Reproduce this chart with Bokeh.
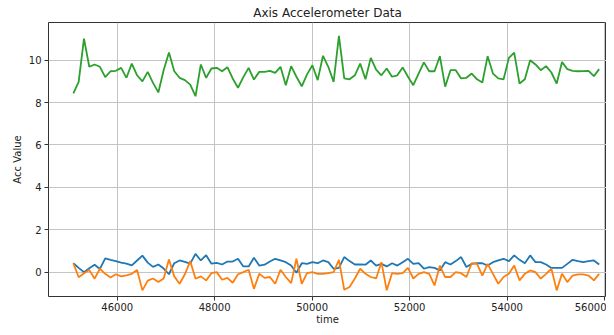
from bokeh.plotting import figure
from bokeh.models import Range1d, FixedTicker
from bokeh.embed import file_html
from bokeh.resources import INLINE

time = [45100, 45209, 45318, 45427, 45536, 45645, 45754, 45863, 45972, 46081,
        46190, 46299, 46408, 46517, 46626, 46735, 46844, 46953, 47062, 47171,
        47280, 47389, 47498, 47607, 47716, 47825, 47934, 48043, 48152, 48261,
        48370, 48479, 48588, 48697, 48806, 48915, 49024, 49133, 49242, 49351,
        49460, 49569, 49678, 49787, 49896, 50005, 50114, 50223, 50332, 50441,
        50550, 50659, 50768, 50877, 50986, 51095, 51204, 51313, 51422, 51531,
        51640, 51749, 51858, 51967, 52076, 52185, 52294, 52403, 52512, 52621,
        52730, 52839, 52948, 53057, 53166, 53275, 53384, 53493, 53602, 53711,
        53820, 53929, 54038, 54147, 54256, 54365, 54474, 54583, 54692, 54801,
        54910, 55019, 55128, 55237, 55346, 55455, 55564, 55673, 55782, 55891]

acc_x = [0.42, 0.20, 0.00, 0.18, 0.35, 0.15, 0.65, 0.58, 0.52, 0.45,
         0.40, 0.32, 0.55, 0.78, 0.45, 0.25, 0.36, 0.17, -0.10, 0.42,
         0.55, 0.48, 0.40, 0.86, 0.55, 0.80, 0.40, 0.44, 0.36, 0.50,
         0.50, 0.63, 0.27, 0.27, 0.68, 0.31, 0.35, 0.50, 0.63, 0.55,
         0.47, 0.31, -0.03, 0.42, 0.39, 0.47, 0.42, 0.55, 0.47, 0.16,
         0.20, 0.71, 0.52, 0.36, 0.36, 0.35, 0.55, 0.31, 0.39, 0.27,
         0.42, 0.31, 0.47, 0.63, 0.39, 0.42, 0.16, 0.24, 0.20, 0.08,
         0.47, 0.36, 0.52, 0.71, 0.24, 0.39, 0.42, 0.42, 0.31, 0.47,
         0.55, 0.63, 0.52, 0.79, 0.58, 0.42, 0.79, 0.47, 0.47, 0.36,
         0.20, 0.20, 0.20, 0.39, 0.58, 0.52, 0.47, 0.52, 0.55, 0.36]

acc_y = [0.42, -0.24, -0.05, 0.10, -0.31, 0.16, -0.08, -0.25, -0.10, -0.20,
         -0.15, -0.08, 0.10, -0.86, -0.40, -0.30, -0.47, -0.30, 0.60, -0.20,
         -0.55, -0.10, 0.52, -0.31, -0.20, -0.39, -0.05, 0.00, -0.36, -0.27,
         -0.50, -0.10, 0.00, 0.11, -0.79, -0.08, -0.27, -0.23, -0.55, 0.11,
         -0.23, -0.52, 0.63, -0.55, -0.05, 0.00, -0.08, -0.08, -0.05, 0.00,
         0.58, -0.83, -0.70, -0.30, 0.16, -0.08, -0.23, -0.30, 0.47, -0.86,
         -0.05, -0.08, -0.05, 0.20, -0.30, -0.08, 0.00, -0.08, -0.63, 0.31,
         -0.23, -0.23, 0.00, -0.05, -0.23, 0.42, 0.39, -0.16, 0.39, -0.08,
         -0.55, -0.23, -0.08, 0.31, -0.39, -0.08, 0.08, 0.00, -0.31, -0.08,
         0.16, -0.86, -0.08, -0.47, -0.16, -0.11, -0.11, -0.16, -0.39, -0.08]

acc_z = [8.43, 8.98, 11.02, 9.69, 9.80, 9.69, 9.20, 9.48, 9.50, 9.64,
         9.17, 9.84, 9.29, 9.00, 9.45, 8.93, 8.48, 9.53, 10.36, 9.48,
         9.17, 9.06, 8.85, 8.30, 9.80, 9.17, 9.61, 9.64, 9.48, 9.67,
         9.14, 8.70, 9.20, 9.64, 9.09, 9.45, 9.45, 9.50, 9.40, 9.69,
         8.82, 9.72, 9.22, 8.77, 9.33, 9.76, 9.06, 10.21, 9.69, 8.98,
         11.15, 9.14, 9.10, 9.29, 9.84, 9.10, 10.11, 9.56, 9.29, 9.61,
         9.22, 9.29, 9.66, 9.22, 8.82, 9.37, 9.90, 9.48, 9.48, 10.19,
         8.75, 9.53, 9.53, 9.14, 9.17, 9.37, 9.10, 8.95, 10.19, 9.37,
         9.14, 9.10, 10.11, 10.36, 8.90, 9.10, 10.00, 9.80, 9.53, 9.72,
         9.42, 8.90, 9.92, 9.58, 9.50, 9.48, 9.49, 9.50, 9.25, 9.58]

x_ticks = [46000, 48000, 50000, 52000, 54000, 56000]
y_ticks = [0, 2, 4, 6, 8, 10]

FONT = "DejaVu Sans"
INK = "#222222"

p = figure(width=606, height=327, output_backend="svg", toolbar_location=None,
           x_range=Range1d(44590, 56041), y_range=Range1d(-1.15, 11.78),
           title="Axis Accelerometer Data",
           min_border_left=48, min_border_right=0, min_border_top=0,
           min_border_bottom=0)

p.title.align = "center"
p.title.text_font = FONT
p.title.text_font_size = "12px"
p.title.text_font_style = "normal"
p.title.text_color = INK
p.title.standoff = 6
p.title.offset = 0

p.background_fill_color = "white"
p.border_fill_color = "white"
p.outline_line_color = "#333333"
p.outline_line_width = 1

for ax in (p.xaxis[0], p.yaxis[0]):
    ax.axis_line_color = None
    ax.major_tick_line_color = "#333333"
    ax.major_tick_out = 4
    ax.major_tick_in = 0
    ax.minor_tick_line_color = None
    ax.major_label_text_font = FONT
    ax.major_label_text_font_size = "10px"
    ax.major_label_text_color = INK
    ax.axis_label_text_font = FONT
    ax.axis_label_text_font_size = "10px"
    ax.axis_label_text_font_style = "normal"
    ax.axis_label_text_color = INK

p.xaxis.ticker = FixedTicker(ticks=x_ticks)
p.yaxis.ticker = FixedTicker(ticks=y_ticks)
p.xaxis.axis_label = "time"
p.yaxis.axis_label = "Acc Value"
p.xaxis.major_label_standoff = 2
p.xaxis.axis_label_standoff = 0
p.yaxis.major_label_standoff = 3
p.yaxis.axis_label_standoff = 3

p.xgrid.ticker = FixedTicker(ticks=x_ticks)
p.ygrid.ticker = FixedTicker(ticks=y_ticks)
p.grid.grid_line_color = "#c4c4c4"
p.grid.grid_line_width = 1

p.line(time, acc_x, line_color="#1f77b4", line_width=1.8)
p.line(time, acc_y, line_color="#ff7f0e", line_width=1.8)
p.line(time, acc_z, line_color="#2ca02c", line_width=1.8)

open("out.html", "w").write(file_html(p, INLINE))
